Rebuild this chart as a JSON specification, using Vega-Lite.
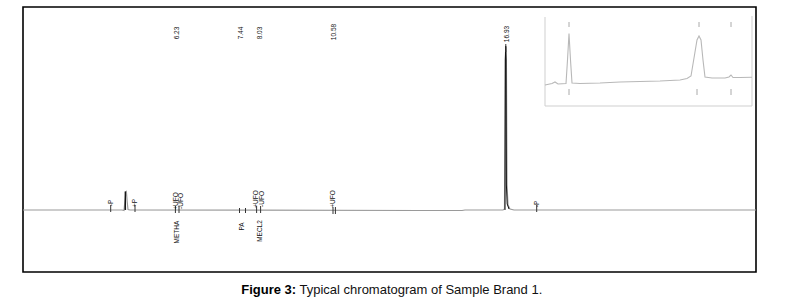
{
  "$schema": "https://vega.github.io/schema/vega-lite/v6.json",
  "width": 733,
  "height": 265,
  "autosize": {"type": "none"},
  "padding": {"left": 23, "top": 7, "right": 40, "bottom": 34},
  "background": "white",
  "config": {
    "view": {"stroke": "#000", "strokeWidth": 1.6},
    "font": "Liberation Sans"
  },
  "datasets": {
    "trace": [
      {"t": 0, "v": 0, "s": "base"},
      {"t": 4.35, "v": 0, "s": "base"},
      {"t": 4.95, "v": 0, "s": "base"},
      {"t": 5.05, "v": -0.5, "s": "base"},
      {"t": 5.14, "v": 17, "s": "base"},
      {"t": 5.17, "v": 18, "s": "base"},
      {"t": 5.21, "v": 8, "s": "base"},
      {"t": 5.25, "v": 0.5, "s": "base"},
      {"t": 5.35, "v": 0, "s": "base"},
      {"t": 19.85, "v": -0.5, "s": "base"},
      {"t": 21.95, "v": -0.5, "s": "base"},
      {"t": 22.1, "v": 0, "s": "base"},
      {"t": 24.0, "v": 0, "s": "base"},
      {"t": 24.075, "v": 1, "s": "base"},
      {"t": 24.11, "v": 150, "s": "base"},
      {"t": 24.14, "v": 163, "s": "base"},
      {"t": 24.17, "v": 150, "s": "base"},
      {"t": 24.2, "v": 25, "s": "base"},
      {"t": 24.25, "v": 5, "s": "base"},
      {"t": 24.35, "v": 1, "s": "base"},
      {"t": 24.55, "v": 0, "s": "base"},
      {"t": 36.65, "v": 0, "s": "base"},
      {"t": 5.1, "v": 0, "s": "pk1"},
      {"t": 5.115, "v": 18.5, "s": "pk1"},
      {"t": 5.13, "v": 0, "s": "pk1"},
      {"t": 24.1, "v": 0, "s": "pk2"},
      {"t": 24.12, "v": 150, "s": "pk2"},
      {"t": 24.135, "v": 164, "s": "pk2"},
      {"t": 24.15, "v": 150, "s": "pk2"},
      {"t": 24.17, "v": 25, "s": "pk2"},
      {"t": 24.21, "v": 6, "s": "pk2"},
      {"t": 24.3, "v": 1, "s": "pk2"}
    ],
    "inset": [
      {"t": 26.1, "v": 125},
      {"t": 26.45, "v": 126.5},
      {"t": 26.6, "v": 128},
      {"t": 26.75, "v": 126},
      {"t": 27.15, "v": 126.5},
      {"t": 27.225, "v": 150},
      {"t": 27.3, "v": 176.5},
      {"t": 27.375, "v": 150},
      {"t": 27.45, "v": 127},
      {"t": 27.85, "v": 126.5},
      {"t": 28.85, "v": 127},
      {"t": 29.85, "v": 128},
      {"t": 30.85, "v": 128.5},
      {"t": 31.85, "v": 129},
      {"t": 32.85, "v": 130},
      {"t": 33.2, "v": 131.5},
      {"t": 33.4, "v": 134},
      {"t": 33.55, "v": 152},
      {"t": 33.7, "v": 170},
      {"t": 33.8, "v": 174},
      {"t": 33.9, "v": 170},
      {"t": 34.0, "v": 150},
      {"t": 34.1, "v": 133},
      {"t": 34.45, "v": 132},
      {"t": 35.1, "v": 132},
      {"t": 35.3, "v": 133},
      {"t": 35.4, "v": 135},
      {"t": 35.5, "v": 132.5},
      {"t": 35.85, "v": 132.5},
      {"t": 36.45, "v": 132.7}
    ],
    "insetTicks": [
      {"t": 27.3, "v": 183, "v2": 188},
      {"t": 33.8, "v": 183, "v2": 188},
      {"t": 35.4, "v": 183, "v2": 188},
      {"t": 27.3, "v": 115, "v2": 121},
      {"t": 33.7, "v": 115, "v2": 121},
      {"t": 35.4, "v": 115, "v2": 121}
    ],
    "insetFrame": [
      {"t": 26.1, "t2": 26.1, "v": 104, "v2": 193},
      {"t": 36.45, "t2": 36.45, "v": 104, "v2": 194},
      {"t": 26.1, "t2": 36.45, "v": 104, "v2": 104}
    ],
    "ticks": [
      {"t": 4.385, "v": -2, "v2": 5},
      {"t": 5.6, "v": -2, "v2": 5},
      {"t": 7.62, "v": -3, "v2": 4},
      {"t": 7.8, "v": -3, "v2": 4},
      {"t": 10.825, "v": -3, "v2": 2},
      {"t": 11.125, "v": -3, "v2": 2},
      {"t": 11.68, "v": -3, "v2": 4},
      {"t": 11.88, "v": -3, "v2": 4},
      {"t": 15.5, "v": -4, "v2": 3},
      {"t": 15.62, "v": -4, "v2": 3},
      {"t": 25.685, "v": -2, "v2": 5},
      {"t": 24.14, "v": 158, "v2": 166}
    ],
    "labels": [
      {"t": 7.675, "v": 177, "label": "6.23"},
      {"t": 10.885, "v": 177, "label": "7.44"},
      {"t": 11.85, "v": 177, "label": "8.03"},
      {"t": 15.55, "v": 178, "label": "10.58"},
      {"t": 24.175, "v": 176, "label": "16.93"},
      {"t": 7.65, "v": 9, "label": "+UFO"},
      {"t": 7.88, "v": 9, "label": "-UFO"},
      {"t": 11.63, "v": 11, "label": "+UFO"},
      {"t": 11.96, "v": 11, "label": "-UFO"},
      {"t": 15.49, "v": 11, "label": "+UFO"},
      {"t": 4.385, "v": 7, "label": "-P"},
      {"t": 5.6, "v": 7, "label": "+P"},
      {"t": 25.685, "v": 6, "label": "-P"},
      {"t": 7.715, "v": -22, "label": "METHA"},
      {"t": 10.935, "v": -16.5, "label": "PA"},
      {"t": 11.835, "v": -21, "label": "MECL2"}
    ]
  },
  "encoding": {
    "x": {
      "field": "t",
      "type": "quantitative",
      "scale": {"domain": [0, 36.65], "nice": false, "zero": false},
      "axis": {
        "domain": false, "ticks": false, "labels": false, "grid": false,
        "title": "Typical chromatogram of Sample Brand 1.",
        "titleFont": "Liberation Sans",
        "titleFontSize": 13,
        "titleFontWeight": "normal",
        "titleColor": "#111",
        "titleAlign": "left",
        "titleBaseline": "alphabetic",
        "titleAnchor": "start",
        "titleX": 276,
        "titleY": 21.5
      }
    },
    "y": {
      "field": "v",
      "type": "quantitative",
      "scale": {"domain": [-62, 203], "nice": false, "zero": false},
      "axis": {
        "domain": false, "ticks": false, "labels": false, "grid": false,
        "title": "Figure 3:",
        "titleFont": "Liberation Sans",
        "titleFontSize": 13,
        "titleFontWeight": "bold",
        "titleColor": "#000",
        "titleAngle": 0,
        "titleAlign": "left",
        "titleBaseline": "alphabetic",
        "titleX": 217.7,
        "titleY": 286.5
      }
    }
  },
  "layer": [
    {
      "data": {"name": "insetFrame"},
      "mark": {"type": "rule", "color": "#cfcfcf", "strokeWidth": 1},
      "encoding": {"x2": {"field": "t2"}, "y2": {"field": "v2"}}
    },
    {
      "data": {"name": "inset"},
      "mark": {"type": "line", "color": "#b8b8b8", "strokeWidth": 1.1},
      "encoding": {}
    },
    {
      "data": {"name": "insetTicks"},
      "mark": {"type": "rule", "color": "#aaaaaa", "strokeWidth": 1},
      "encoding": {"y2": {"field": "v2"}}
    },
    {
      "data": {"name": "trace"},
      "transform": [{"filter": "datum.s == 'base'"}],
      "mark": {"type": "line", "color": "#9a9a9a", "strokeWidth": 1.2},
      "encoding": {}
    },
    {
      "data": {"name": "trace"},
      "transform": [{"filter": "datum.s != 'base'"}],
      "mark": {"type": "line", "color": "#111", "strokeWidth": 1},
      "encoding": {"detail": {"field": "s"}}
    },
    {
      "data": {"name": "ticks"},
      "mark": {"type": "rule", "color": "#333", "strokeWidth": 1},
      "encoding": {"y2": {"field": "v2"}}
    },
    {
      "data": {"name": "labels"},
      "mark": {"type": "text", "angle": 270, "align": "center", "baseline": "middle", "fontSize": 6.5, "font": "Liberation Sans", "color": "#111"},
      "encoding": {"text": {"field": "label"}}
    }
  ]
}
